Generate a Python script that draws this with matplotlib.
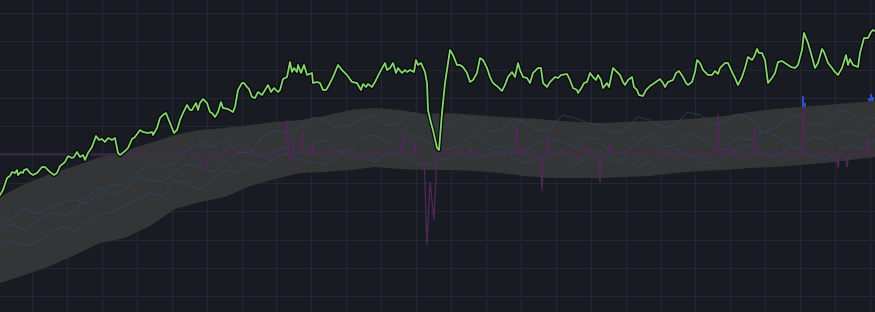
import numpy as np
import matplotlib
matplotlib.use("Agg")
import matplotlib.pyplot as plt
import matplotlib.patheffects as pe

# ---- data ----
price_t = [0, 3, 7, 10, 12, 15, 17, 18, 21, 23, 24, 27, 30, 33, 37, 42, 45, 50, 54, 57, 60, 65, 68, 72, 74, 77, 80, 83, 85, 88,
           92, 96, 99, 102, 105, 108, 112, 115, 118, 120, 125, 128, 132, 135, 140, 143, 148, 152, 153, 157, 160, 163, 166, 168,
           172, 174, 177, 180, 183, 187, 190, 192, 196, 198, 200, 203, 207, 210, 212, 215, 218, 221, 223, 228, 233, 235, 238,
           242, 244, 247, 249, 252, 255, 258, 262, 265, 268, 271, 274, 278, 280, 283, 287, 290, 292, 294, 297, 298, 301, 304,
           307, 312, 313, 317, 320, 323, 326, 329, 333, 338, 342, 347, 352, 357, 361, 363, 366, 368, 372, 375, 380, 385, 387,
           390, 393, 396, 398, 402, 405, 407, 410, 414, 416, 418, 421, 425, 427, 428, 431, 433, 437, 439, 442, 445, 450, 453,
           457, 460, 463, 467, 470, 473, 477, 480, 483, 487, 490, 493, 498, 502, 505, 508, 512, 515, 518, 520, 523, 527, 530,
           533, 538, 541, 543, 547, 550, 555, 558, 561, 567, 570, 573, 577, 578, 582, 584, 587, 590, 593, 596, 598, 601, 603,
           607, 609, 613, 615, 620, 623, 625, 628, 632, 634, 637, 639, 643, 646, 650, 653, 660, 663, 665, 668, 673, 676, 679,
           683, 686, 688, 692, 695, 697, 700, 703, 708, 712, 715, 718, 720, 723, 725, 728, 732, 735, 738, 742, 745, 748, 752,
           754, 757, 759, 762, 765, 768, 772, 775, 778, 782, 785, 791, 795, 798, 802, 804, 808, 812, 815, 818, 822, 824, 828,
           832, 835, 838, 842, 846, 848, 850, 853, 858, 860, 864, 868, 871, 873, 875]
price = [117, 122, 134, 136, 140, 139, 142, 137, 140, 139, 142, 143, 139, 137, 139, 145, 145, 140, 137, 139, 146, 150, 156,
         154, 155, 160, 155, 157, 152, 159, 165, 176, 172, 173, 170, 174, 172, 174, 159, 157, 161, 164, 173, 175, 182, 180,
         179, 180, 177, 184, 194, 197, 199, 194, 184, 179, 182, 192, 199, 207, 202, 202, 209, 202, 209, 213, 209, 200, 199,
         195, 200, 210, 204, 203, 200, 205, 222, 229, 229, 225, 223, 215, 214, 220, 217, 222, 227, 220, 224, 220, 222, 233,
         235, 250, 240, 244, 240, 247, 239, 247, 237, 239, 229, 230, 229, 222, 222, 227, 235, 247, 242, 237, 230, 229, 222,
         228, 225, 228, 225, 230, 240, 249, 242, 244, 249, 239, 244, 239, 242, 240, 242, 240, 252, 247, 249, 240, 229, 202,
         189, 182, 164, 162, 199, 229, 262, 257, 247, 247, 245, 239, 230, 232, 239, 254, 252, 244, 235, 229, 225, 221, 227,
         235, 240, 235, 249, 242, 235, 234, 229, 239, 244, 244, 229, 225, 230, 235, 234, 237, 238, 232, 224, 222, 219, 225,
         229, 230, 239, 235, 232, 237, 232, 224, 229, 225, 244, 242, 237, 230, 227, 232, 235, 225, 222, 217, 216, 222, 226,
         228, 233, 229, 225, 230, 232, 239, 241, 235, 229, 227, 230, 240, 252, 249, 242, 237, 237, 241, 238, 244, 247, 249,
         249, 240, 234, 227, 235, 244, 255, 252, 255, 263, 259, 259, 252, 229, 234, 239, 250, 251, 249, 245, 244, 247, 262,
         279, 269, 255, 244, 249, 263, 260, 249, 244, 240, 237, 244, 257, 247, 253, 247, 245, 259, 274, 274, 280, 282, 281]

band_t = list(range(0, 876, 25))
band_high = [115, 128, 138, 146, 155, 161, 169, 177, 182, 184, 187, 190, 192, 196, 202, 204, 202, 198, 199, 197, 195, 194,
             192, 190, 189, 190, 191, 192, 194, 196, 200, 203, 205, 207, 209, 211]
band_low = [29, 37, 46, 57, 69, 74, 86, 103, 110, 115, 126, 133, 139, 140, 142, 145, 143, 142, 142, 141, 139, 136, 134,
            134, 134, 135, 136, 139, 141, 142, 144, 145, 147, 149, 152, 155]

path_t = [i * 12.5 for i in range(71)]
path_a = [85, 95, 103, 98, 104, 110, 112, 108, 119, 128, 126, 140, 149, 144, 150, 162, 169, 165, 172, 160, 159, 175, 182,
          178, 185, 195, 192, 183, 187, 193, 197, 186, 190, 199, 194, 185, 187, 196, 192, 180, 182, 193, 190, 181, 184,
          197, 194, 189, 187, 178, 182, 195, 192, 184, 187, 200, 197, 188, 190, 198, 194, 180, 184, 192, 197, 186, 190,
          202, 200, 190, 194]
path_b = [82, 88, 81, 92, 99, 95, 102, 115, 125, 118, 122, 135, 132, 130, 140, 148, 145, 140, 149, 158, 162, 155, 160,
          165, 159, 168, 172, 160, 164, 175, 177, 170, 167, 178, 172, 165, 162, 170, 177, 163, 167, 158, 162, 168, 174,
          170, 164, 176, 172, 158, 160, 170, 177, 165, 167, 178, 174, 166, 162, 175, 172, 180, 177, 168, 164, 176, 172,
          178, 182, 176, 187]
path_c = [65, 72, 66, 70, 79, 86, 80, 90, 97, 100, 107, 112, 119, 115, 132, 128, 122, 133, 142, 140, 149, 145, 154, 158,
          152, 150, 147, 156, 162, 155, 150, 160, 157, 150, 147, 152, 154, 160, 152, 158, 162, 154, 149, 152, 157, 162,
          147, 155, 162, 150, 154, 145, 150, 158, 164, 157, 152, 148, 157, 162, 167, 160, 154, 165, 162, 156, 152, 160,
          167, 163, 172]

osc_t = [0, 205, 207, 209, 285, 287, 289, 290, 292, 293, 295, 300, 302, 304, 310, 312, 314, 358, 360, 362, 401, 403, 405,
         413, 415, 417, 424, 427, 430, 434, 437, 468, 470, 472, 515, 517, 519, 520, 522, 524, 540, 542, 544, 546, 548, 550,
         575, 577, 579, 585, 587, 589, 598, 600, 602, 608, 610, 612, 716, 718, 720, 726, 728, 730, 753, 755, 757, 801, 803,
         805, 836, 838, 840, 845, 847, 849, 866, 868, 870, 875]
osc = [158, 158, 145, 158, 158, 192, 158, 149, 158, 172, 158, 158, 179, 158, 158, 170, 158, 158, 152, 158, 158, 180, 158,
       158, 169, 158, 158, 67, 130, 92, 158, 158, 165, 158, 158, 187, 158, 158, 165, 158, 158, 122, 158, 158, 175, 158,
       158, 152, 158, 158, 165, 158, 158, 130, 158, 158, 169, 158, 158, 197, 158, 158, 170, 158, 158, 187, 158, 158, 205,
       158, 158, 144, 158, 158, 145, 158, 158, 174, 158, 158]

bar_t = [803, 805, 869, 871, 873]
bar_top = [216, 209, 214, 218, 215]

# ---- figure ----
BG = "#181b21"
fig = plt.figure(figsize=(8.75, 3.12), dpi=100, facecolor=BG)
ax = fig.add_axes([0, 0, 1, 1], facecolor=BG)
ax.set_xlim(0, 875)
ax.set_ylim(0, 312)
ax.set_xticks(np.arange(32, 876, 34.92))
ax.set_yticks(np.arange(15.6, 312, 28.33))
ax.grid(True, color="#242830", linewidth=0.8)
ax.tick_params(length=0, labelbottom=False, labelleft=False)
for s in ax.spines.values():
    s.set_visible(False)
ax.set_axisbelow(True)

ax.fill_between(band_t, band_low, band_high, color="#343537", linewidth=0, zorder=2)

for p in (path_a, path_b, path_c):
    ax.plot(path_t, p, color="#2d4a6a", linewidth=0.7, alpha=0.65, zorder=3)

ax.plot(osc_t, osc, color="#52285a", linewidth=0.9, zorder=4)

bottoms = np.interp(bar_t, band_t, band_high)
ax.bar(bar_t, np.array(bar_top) - bottoms, bottom=bottoms, width=1.6, color="#2a4fd0", zorder=4)

ax.plot(price_t, price, color="#86d66f", linewidth=1.3, zorder=5,
        path_effects=[pe.Stroke(linewidth=3.0, foreground="#050607"), pe.Normal()])

fig.savefig("out.png", dpi=100, facecolor=BG)
